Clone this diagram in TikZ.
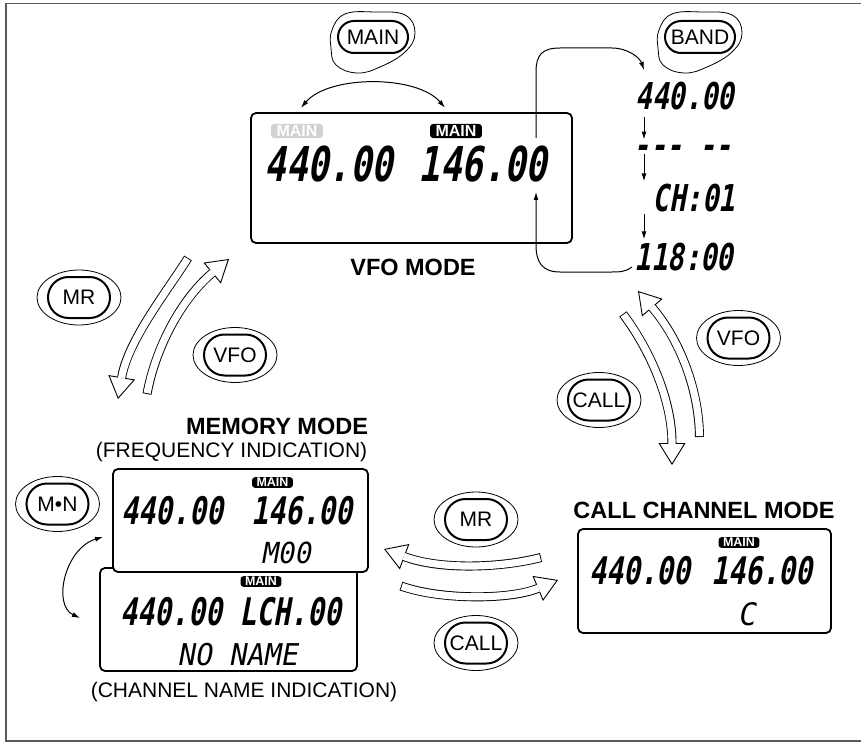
\documentclass[tikz,border=0pt]{standalone}
\usepackage{fontspec}
\setmainfont{Liberation Sans}
\newfontfamily\lcdfont[FakeStretch=0.74,FakeSlant=0.18]{DejaVu Sans Mono}
\newfontfamily\lcdwidefont[FakeStretch=0.95,FakeSlant=0.18]{DejaVu Sans Mono}
\usetikzlibrary{arrows.meta,shapes.geometric,shapes.misc,calc}

\tikzset{
  panel/.style={draw, line width=1.8pt, rounded corners=5pt, inner sep=0pt},
  key/.style={draw, line width=2pt, rounded rectangle, minimum width=62pt, minimum height=41pt,
    inner sep=0pt, font=\fontsize{21}{21}\selectfont},
  ring/.style={draw, line width=0.8pt, ellipse, minimum width=84pt, minimum height=55pt},
  badge/.style={fill=black, text=white, rounded corners=3pt, inner xsep=5.5pt, inner ysep=1.5pt,
    font=\bfseries\fontsize{16}{16}\selectfont},
  smallbadge/.style={badge, inner xsep=4.5pt, inner ysep=1pt, font=\bfseries\fontsize{12.5}{12.5}\selectfont},
  lcd/.style={inner sep=0pt, anchor=base, font=\lcdfont\bfseries\fontsize{#1}{#1}\selectfont},
  lcdwide/.style={inner sep=0pt, anchor=base, font=\lcdwidefont\fontsize{#1}{#1}\selectfont},
  title/.style={font=\bfseries\fontsize{23.5}{24}\selectfont},
  caption/.style={font=\fontsize{21}{22}\selectfont},
  link/.style={->, line width=1pt},
  hollow/.style={line width=9pt, -{Triangle[length=22pt, width=27pt, line width'=0.9pt, fill=white]}},
  hollowcore/.style={line width=7.2pt, white, shorten <=0.9pt, shorten >=21pt},
}
\newcommand{\hollowarrow}[1]{\draw[hollow] #1; \draw[hollowcore] #1;}

\begin{document}
\begin{tikzpicture}[x=1pt, y=-1pt, >={Latex[length=8pt,width=5pt]}]
\useasboundingbox (0,0) rectangle (861,743);
\draw[black!65, line width=1.5pt] (6,3.5) rectangle (870,741);

% VFO mode
\node[panel, minimum width=321pt, minimum height=130pt] (vfolcd) at (411.5,178) {};
\node[badge, fill=black!18] (vfogbadge) at (297,131) {MAIN};
\node[badge] (vfobadge) at (456,131) {MAIN};
\node[lcd=48] (vfomain) at (329,182) {440.00};
\node[lcd=48] (vfosub) at (483,182) {146.00};
\node[title] (vfotitle) at (413,267) {VFO MODE};
\draw[<->, line width=1pt] ($(vfogbadge.north)+(4,-16)$) .. controls +(28,-33) and +(-28,-33) .. ($(vfobadge.north)+(-11,-16)$);

% keys
\node[key, minimum width=70pt, minimum height=32pt] (mainkey) at (373,37) {MAIN};
\node[key, minimum width=70pt, minimum height=32pt] (bandkey) at (700,37) {BAND};
\foreach \k in {mainkey,bandkey}
  \draw[line width=0.8pt, shift={(\k)}] plot[smooth cycle, tension=0.7] coordinates
    {(-41,-7) (-28,-23) (2,-25) (32,-22) (42,-4) (32,15) (7,30) (-16,36) (-37,28) (-42,11)};
\node[key] (mrkey) at (79,297.5) {MR};
\node[key] (vfokey) at (235,355) {VFO};
\node[key] (vfokeyb) at (738.5,338) {VFO};
\node[key] (callkey) at (599,400) {CALL};
\node[key] (mrkeyb) at (476,519.5) {MR};
\node[key] (callkeyb) at (476,643) {CALL};
\node[key] (mnkey) at (57.5,504) {M\textbullet N};
\foreach \k in {mrkey,vfokey,vfokeyb,callkey,mrkeyb,callkeyb,mnkey}
  \node[ring] (ring\k) at (\k) {};

% BAND chain
\node[lcd=37] (band1) at (685,110) {440.00};
\node[lcd=37] (band2) at (683,159) {-{}-{}-{} -{}-};
\node[lcd=37] (band3) at (694,212) {CH:01};
\node[lcd=37] (band4) at (684,270) {118:00};
\coordinate (chainx) at (644,0);
\draw[link] ($(band1.south -| chainx)+(0,6)$) -- ($(band2.north -| chainx)+(0,-6)$);
\draw[link] ($(band2.north -| chainx)+(0,8)$) -- ($(band3.north -| chainx)+(0,-3)$);
\draw[link] ($(band3.south -| chainx)+(0,1)$) -- ($(band4.north -| chainx)+(0,-3)$);
\coordinate (vfoout) at (536,138);
\coordinate (bandin) at (644,70);
\coordinate (bandout) at (632,267);
\coordinate (vfoin) at (536,192);
\draw[link] (vfoout) -- (536,72) .. controls (536,55) and (542,48) .. (560,48) -- (612,48)
  .. controls (628,48) and (640,58) .. (bandin);
\draw[link] (bandout) .. controls (625,272) and (620,272) .. (612,272) -- (560,272)
  .. controls (542,272) and (536,262) .. (536,245) -- (vfoin);

% memory mode
\node[title] (memtitle) at (277,426) {MEMORY MODE};
\node[caption] (memcapa) at (231.5,452) {(FREQUENCY INDICATION)};
\node[panel, minimum width=257pt, minimum height=103pt] (memname) at (228.5,619.5) {};
\node[panel, fill=white, minimum width=255pt, minimum height=103pt] (memfreq) at (240.5,520.5) {};
\node[smallbadge] (memfbadge) at (272.5,482.5) {MAIN};
\node[lcd=38] (memfmain) at (172.5,524) {440.00};
\node[lcd=38] (memfsub) at (302,524) {146.00};
\node[lcdwide=29] (memfch) at (286,563) {M00};
\node[smallbadge] (memnbadge) at (261,581.5) {MAIN};
\node[lcd=38] (memnmain) at (231,625) {440.00 LCH.00};
\node[lcdwide=30] (memnname) at (237.5,665) {NO NAME};
\node[caption] (memcapb) at (244,692) {(CHANNEL NAME INDICATION)};
\coordinate (mnup) at (103,537);
\coordinate (mndown) at (80,618);
\draw[<->, line width=1pt] (mnup) .. controls (65,548) and (52,605) .. (mndown);

% call channel mode
\node[title] (calltitle) at (704,510) {CALL CHANNEL MODE};
\node[panel, minimum width=253pt, minimum height=104pt] (calllcd) at (704.5,581) {};
\node[smallbadge] (callbadge) at (739,542.5) {MAIN};
\node[lcd=38] (callmain) at (640,584) {440.00};
\node[lcd=38] (callsub) at (762,584) {146.00};
\node[lcdwide=31] (callch) at (746.5,625) {C};

% mode change arrows
\coordinate (tomemtail) at (188,258);
\coordinate (tomemtip) at (118,399);
\coordinate (tovfotail) at (147,394);
\coordinate (tovfotip) at (229,259);
\coordinate (upvfotail) at (699.5,437);
\coordinate (upvfotip) at (638,291);
\coordinate (tocalltail) at (623,314);
\coordinate (tocalltip) at (672,465);
\coordinate (backmemtail) at (541,557.5);
\coordinate (backmemtip) at (384,549);
\coordinate (gocalltail) at (401,586);
\coordinate (gocalltip) at (558,580);
\hollowarrow{(tomemtail) .. controls (168,290) and (128,340) .. (tomemtip)}
\hollowarrow{(tovfotail) .. controls (155,350) and (180,300) .. (tovfotip)}
\hollowarrow{(upvfotail) .. controls (699,390) and (680,340) .. (upvfotip)}
\hollowarrow{(tocalltail) .. controls (650,350) and (672,400) .. (tocalltip)}
\hollowarrow{(backmemtail) .. controls (500,568) and (440,570) .. (backmemtip)}
\hollowarrow{(gocalltail) .. controls (440,600) and (510,600) .. (gocalltip)}
\end{tikzpicture}
\end{document}
